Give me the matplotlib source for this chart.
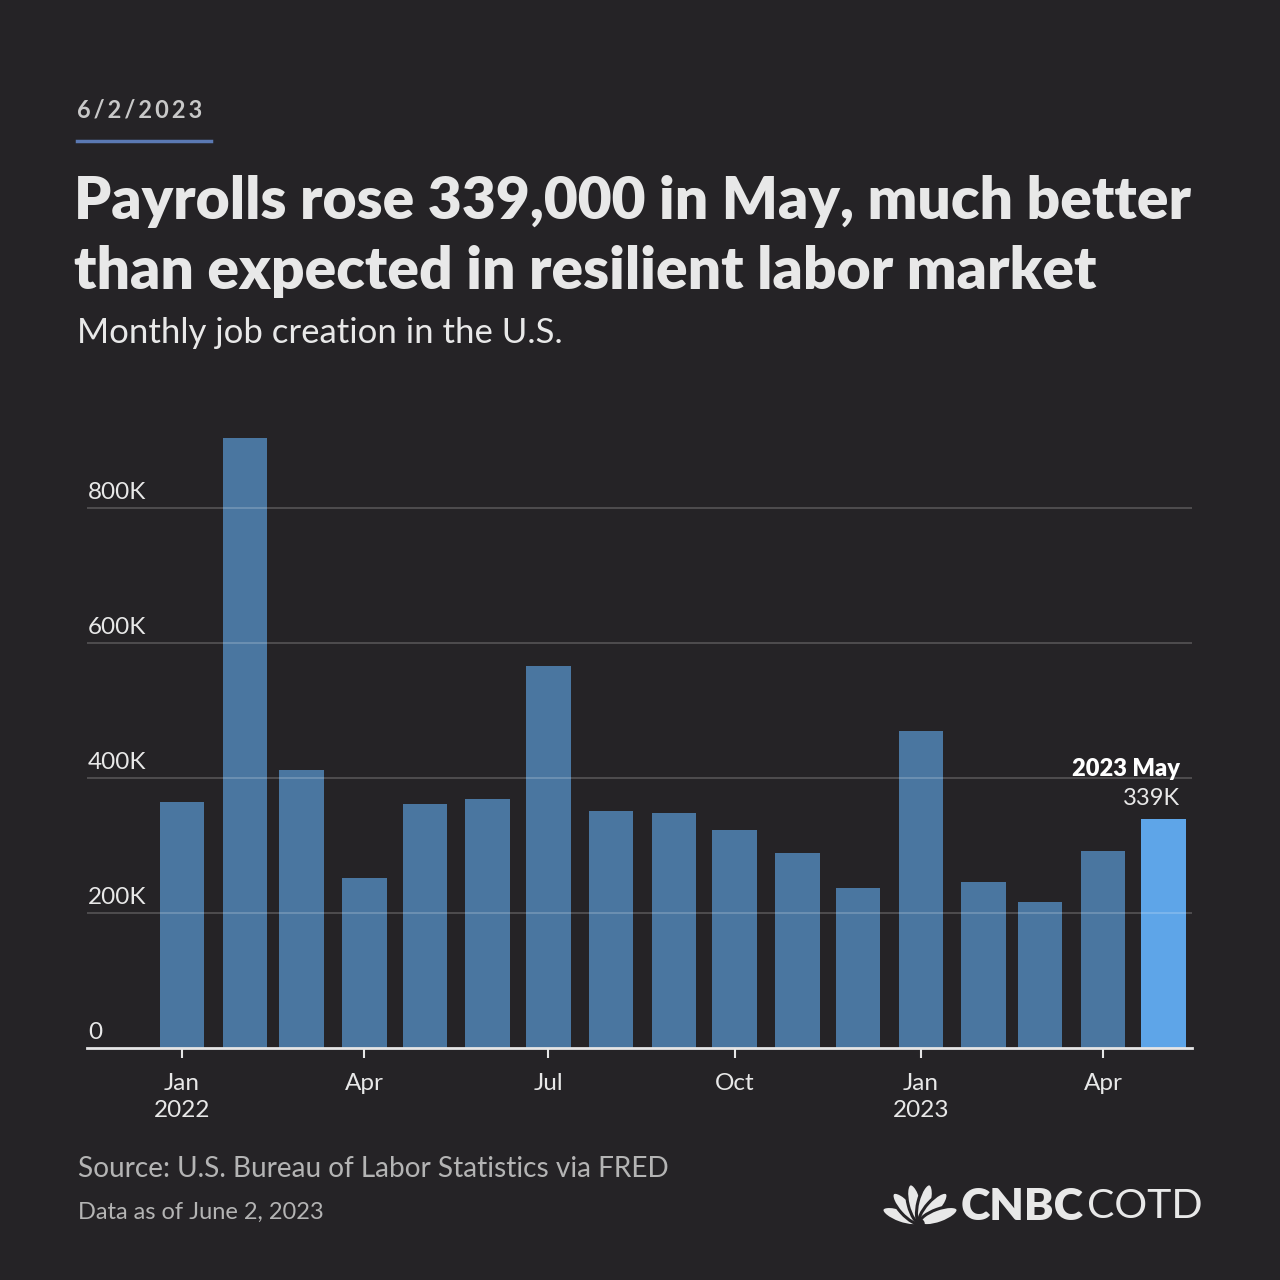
import matplotlib
matplotlib.use("Agg")
import matplotlib.pyplot as plt
import matplotlib.transforms as mtransforms
from matplotlib.patches import Ellipse, Circle
import numpy as np
import datetime as dt

# ---------------- data ----------------
months = ["2022-01", "2022-02", "2022-03", "2022-04", "2022-05", "2022-06",
          "2022-07", "2022-08", "2022-09", "2022-10", "2022-11", "2022-12",
          "2023-01", "2023-02", "2023-03", "2023-04", "2023-05"]
jobs_k = [364, 904, 412, 252, 361, 369, 566, 351, 348, 323, 289, 237,
          470, 246, 216, 292, 339]
ytick_vals = [0, 200, 400, 600, 800]
ytick_labels = ["0", "200K", "400K", "600K", "800K"]
xtick_dates = ["2022-01", "2022-04", "2022-07", "2022-10", "2023-01", "2023-04"]
xtick_labels = ["Jan\n2022", "Apr", "Jul", "Oct", "Jan\n2023", "Apr"]
title_lines = ["Payrolls rose 339,000 in May, much better",
               "than expected in resilient labor market"]
subtitle = "Monthly job creation in the U.S."
date_label = "6/2/2023"
source = "Source: U.S. Bureau of Labor Statistics via FRED"
data_note = "Data as of June 2, 2023"
annot_title = "2023 May"
annot_value = "339K"

# ---------------- style ----------------
BG = "#252326"
BAR = "#4a76a0"
HIGHLIGHT = "#5ea5e8"
TEXT = "#e8e8e8"
GRAY = "#b4b4b4"
FONT = "Lato"

W = H = 1280
fig = plt.figure(figsize=(12.8, 12.8), dpi=100, facecolor=BG)

def fy(px):
    return 1 - px / H

def fx(px):
    return px / W

# axes placement
left_px, right_px, bottom_px = 87, 1192, 1048
px_per_k = 0.675
ytop = 950
top_px = bottom_px - ytop * px_per_k
ax = fig.add_axes([fx(left_px), fy(bottom_px), fx(right_px - left_px), (bottom_px - top_px) / H])
ax.set_facecolor(BG)

dates = [dt.datetime.strptime(m, "%Y-%m") for m in months]
colors = [BAR] * (len(dates) - 1) + [HIGHLIGHT]
ax.bar(dates, jobs_k, width=22, color=colors, align="center", zorder=2)

ax.set_xlim(dt.datetime(2021, 11, 15), dt.datetime(2023, 5, 15))
ax.set_ylim(0, ytop)

# grid
for v in ytick_vals[1:]:
    ax.axhline(v, color="white", alpha=0.22, lw=1.2, zorder=3)

for s in ["top", "right", "left"]:
    ax.spines[s].set_visible(False)
ax.spines["bottom"].set_color("#e6e6e6")
ax.spines["bottom"].set_linewidth(2)
ax.spines["bottom"].set_zorder(4)

ax.set_yticks([])
trans = mtransforms.blended_transform_factory(ax.transAxes, ax.transData)
for v, lab in zip(ytick_vals, ytick_labels):
    ax.text(0.001, v + 8, lab, transform=trans, ha="left", va="bottom",
            color=TEXT, fontsize=17.5, family=FONT, zorder=5)

xt = [dt.datetime.strptime(m, "%Y-%m") for m in xtick_dates]
ax.set_xticks(xt)
ax.set_xticklabels(xtick_labels, color=TEXT, fontsize=17.5, family=FONT, linespacing=1.35)
ax.tick_params(axis="x", length=7, width=1.5, color="#e6e6e6", pad=11)

# annotation
ax.text(dates[-1] + dt.timedelta(days=8), jobs_k[-1] + 74, annot_title, ha="right", va="center",
        color="white", fontsize=17, fontweight="heavy", family=FONT)
ax.text(dates[-1] + dt.timedelta(days=8), jobs_k[-1] + 31, annot_value, ha="right", va="center",
        color=TEXT, fontsize=17, family=FONT)

# header
fig.text(fx(77), fy(110), "\u2009".join(list(date_label)), ha="left", va="center",
         color="#c8c8c8", fontsize=17, fontweight="bold", family=FONT)
fig.add_artist(plt.Line2D([fx(77), fx(211)], [fy(141), fy(141)], color="#5b79b3", lw=2.5))
fig.text(fx(74), fy(201), title_lines[0], ha="left", va="center", color=TEXT, fontsize=42.2,
         fontweight="heavy", family=FONT)
fig.text(fx(74), fy(272), title_lines[1], ha="left", va="center", color=TEXT, fontsize=42.2,
         fontweight="heavy", family=FONT)
fig.text(fx(77), fy(333), subtitle, ha="left", va="center", color=TEXT, fontsize=25, family=FONT)

# footer
fig.text(fx(78), fy(1169), source, ha="left", va="center", color=GRAY, fontsize=20.2, family=FONT)
fig.text(fx(78), fy(1212), data_note, ha="left", va="center", color=GRAY, fontsize=17, family=FONT)

# logo: peacock feathers + wordmark
lax = fig.add_axes([fx(883), fy(1228), fx(74), 48 / H])
lax.set_xlim(-1.1, 1.1)
lax.set_ylim(-0.05, 1.38)
lax.axis("off")
for ang in [-70, -42, -14, 14, 42, 70]:
    r = np.deg2rad(ang)
    dist = 0.6
    cx, cy = dist * np.sin(r), dist * np.cos(r) + 0.1
    lax.add_patch(Ellipse((cx, cy), 0.42, 1.2, angle=-ang, facecolor="#e8e8e8",
                          edgecolor=BG, lw=2.2))
lax.add_patch(Circle((0, 0.08), 0.12, color=BG))
fig.text(fx(961), fy(1207), "CNBC", ha="left", va="center", color="#e8e8e8",
         fontsize=32, fontweight="heavy", family=FONT)
fig.text(fx(1087), fy(1207), "COTD", ha="left", va="center", color="#e8e8e8",
         fontsize=29.5, fontweight="normal", family=FONT)

fig.savefig("out.png", dpi=100, facecolor=BG)
